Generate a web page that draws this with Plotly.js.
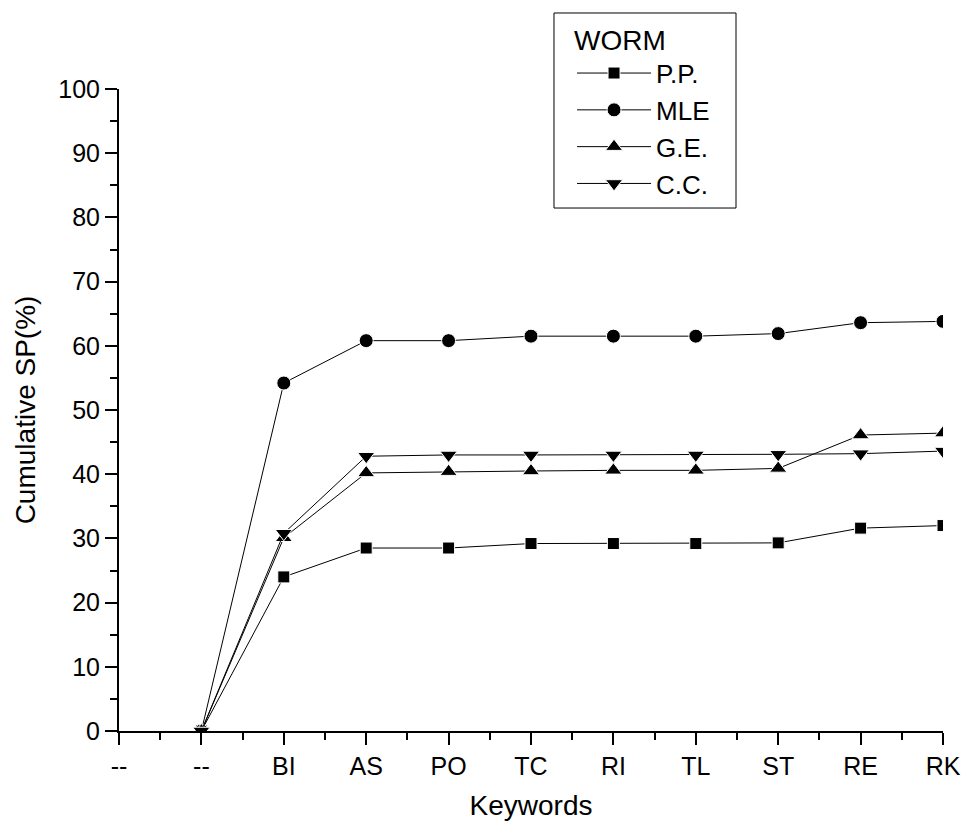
<!DOCTYPE html>
<html>
<head>
<meta charset="utf-8">
<script src="https://cdn.plot.ly/plotly-3.0.1.min.js"></script>
<style>
  html, body { margin: 0; padding: 0; background: #fff; }
  #chart { width: 964px; height: 823px; }
</style>
</head>
<body>
<div id="chart"></div>
<script>
// Tick labels along the x axis (two placeholder "--" categories first)
const tickLabels = ['--', '--', 'BI', 'AS', 'PO', 'TC', 'RI', 'TL', 'ST', 'RE', 'RK'];
// Series start at the second "--" category
const firstIndex = 1;

const ppValues  = [0, 24.0, 28.5, 28.5, 29.2, 29.2, 29.2, 29.3, 31.6, 32.0];
const mleValues = [0, 54.2, 60.8, 60.8, 61.5, 61.5, 61.5, 61.9, 63.6, 63.8];
const geValues  = [0, 30.1, 40.2, 40.4, 40.5, 40.6, 40.6, 40.9, 46.1, 46.4];
const ccValues  = [0, 30.8, 42.8, 43.0, 43.0, 43.0, 43.0, 43.1, 43.2, 43.6];

const seriesNames = ['P.P.', 'MLE', 'G.E.', 'C.C.'];
const seriesSymbols = ['square', 'circle', 'triangle-up', 'triangle-down'];
const seriesSizes = [12, 14, 15, 15];
const seriesValues = [ppValues, mleValues, geValues, ccValues];

const xPositions = tickLabels.map((_, i) => i);
const traceX = xPositions.slice(firstIndex);

const traces = seriesValues.map((vals, k) => ({
  type: 'scatter',
  mode: 'lines+markers',
  name: seriesNames[k],
  x: traceX,
  y: vals,
  line: { color: '#000', width: 1 },
  marker: {
    symbol: seriesSymbols[k],
    size: seriesSizes[k],
    color: '#000',
    line: { color: '#fff', width: 1 }
  },
  cliponaxis: true
}));

const fontFam = 'Liberation Sans, Arial, sans-serif';

const layout = {
  width: 964,
  height: 823,
  margin: { l: 119, r: 21, t: 89, b: 92 },
  paper_bgcolor: '#fff',
  plot_bgcolor: '#fff',
  font: { family: fontFam, color: '#000', size: 25 },
  showlegend: true,
  legend: {
    x: 0.5498, y: 1.118, xanchor: 'left', yanchor: 'top',
    borderwidth: 0, bgcolor: 'rgba(0,0,0,0)',
    font: { family: fontFam, size: 26, color: '#000' },
    title: { text: 'WORM', font: { family: fontFam, size: 28, color: '#000' } },
    itemwidth: 74,
    tracegroupgap: 0
  },
  shapes: [{
    type: 'rect', xref: 'paper', yref: 'paper',
    x0: 0.5279, x1: 0.7488, y0: 0.8146, y1: 1.1184,
    line: { color: '#000', width: 1 }, fillcolor: 'rgba(0,0,0,0)', layer: 'above'
  }],
  xaxis: {
    range: [0, 10],
    tickmode: 'array',
    tickvals: xPositions,
    ticktext: tickLabels,
    showgrid: false,
    zeroline: false,
    showline: true,
    linecolor: '#000',
    linewidth: 2,
    ticks: 'outside',
    ticklen: 12,
    tickwidth: 2,
    tickcolor: '#000',
    tickfont: { family: fontFam, size: 25, color: '#000' },
    minor: { dtick: 0.5, tick0: 0, ticks: 'outside', ticklen: 7, tickwidth: 2, tickcolor: '#000', showgrid: false },
    title: { text: 'Keywords', font: { family: fontFam, size: 28, color: '#000' }, standoff: 16 }
  },
  yaxis: {
    range: [0, 100],
    tickmode: 'linear',
    tick0: 0,
    dtick: 10,
    showgrid: false,
    zeroline: false,
    showline: true,
    linecolor: '#000',
    linewidth: 2,
    ticks: 'outside',
    ticklen: 12,
    tickwidth: 2,
    tickcolor: '#000',
    tickfont: { family: fontFam, size: 25, color: '#000' },
    minor: { dtick: 5, tick0: 0, ticks: 'outside', ticklen: 7, tickwidth: 2, tickcolor: '#000', showgrid: false },
    title: { text: 'Cumulative SP(%)', font: { family: fontFam, size: 28, color: '#000' }, standoff: 14 }
  }
};

Plotly.newPlot('chart', traces, layout, { displayModeBar: false, staticPlot: true });
</script>
</body>
</html>
